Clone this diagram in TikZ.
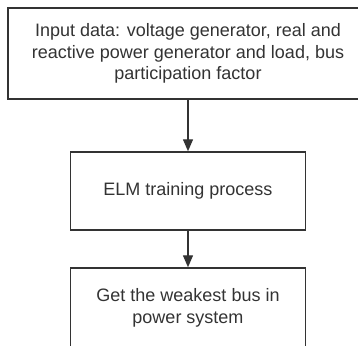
\documentclass[tikz,border=0pt]{standalone}
\usepackage{fontspec}
\setmainfont{Liberation Sans}
\usetikzlibrary{arrows.meta}
\definecolor{boxline}{HTML}{333333}

\begin{document}
\begin{tikzpicture}[x=0.75pt, y=-0.75pt,
        box/.style={draw=boxline, line width=1.1pt, text=boxline, align=center,
            font=\fontsize{13.5}{16.2}\selectfont, inner sep=0pt},
        flow/.style={draw=boxline, line width=1.1pt, -{Triangle[width=7.5pt, length=9pt]}}]
        \useasboundingbox (0,0) rectangle (358,346);
        \clip (0,0) rectangle (358,346);
        \node[box, minimum width=270pt, minimum height=68.25pt] (input) at (188,53.5)
            {Input data: voltage generator, real and\\reactive power generator and load, bus\\participation factor};
        \node[box, minimum width=176.25pt, minimum height=58.5pt] (elm) at (188,191) {ELM training process};
        \node[box, minimum width=176.25pt, minimum height=60pt] (weak) at (188,308) {Get the weakest bus in\\power system};
        \draw[flow] (input) -- (elm);
        \draw[flow] (elm) -- (weak);
    \end{tikzpicture}
\end{document}
